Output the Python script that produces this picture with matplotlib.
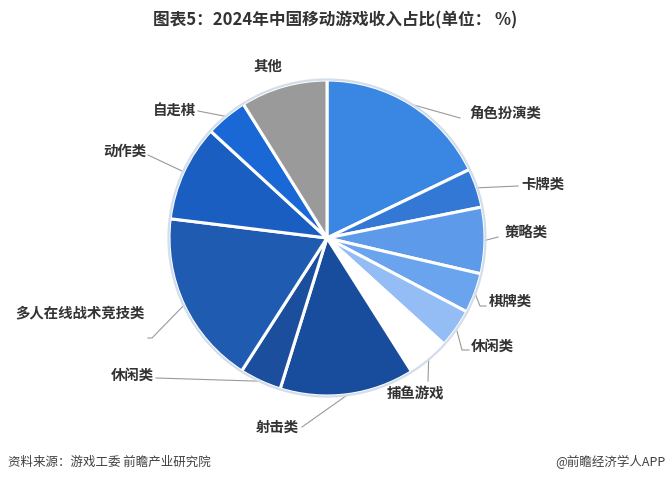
import matplotlib
matplotlib.use("Agg")
import matplotlib.pyplot as plt
import numpy as np
from matplotlib.patches import Circle

plt.rcParams['font.family'] = ['Noto Sans CJK SC', 'DejaVu Sans']

categories = ["角色扮演类", "卡牌类", "策略类", "棋牌类", "休闲类", "捕鱼游戏",
              "射击类", "休闲类", "多人在线战术竞技类", "动作类", "自走棋", "其他"]
values = [17.9, 4.0, 6.8, 4.1, 4.0, 4.3, 13.8, 4.3, 17.9, 9.9, 4.3, 8.9]
colors = ["#3a86e3", "#3478d6", "#5d9aea", "#6ba4ee", "#93bdf4", "#ffffff",
          "#174d9c", "#1b4f9e", "#1f5bb0", "#1b5ec2", "#1a68d6", "#9a9a9a"]

W, H = 668, 481
fig = plt.figure(figsize=(W / 100, H / 100), dpi=100)
ax = fig.add_axes([0, 0, 1, 1])

cx, cy, R = 327, 239, 158
# y axis is inverted, so counterclock=True in data space appears clockwise
wedges, _ = ax.pie(values, colors=colors, startangle=-90, counterclock=True,
                   center=(cx, cy), radius=R, frame=True,
                   wedgeprops=dict(edgecolor='white', linewidth=2.2))
ax.set_xlim(0, W)
ax.set_ylim(H, 0)
ax.set_aspect('equal')
ax.axis('off')
ax.add_patch(Circle((cx, cy), R + 0.5, fill=False, edgecolor='#d3deea', linewidth=1.6, zorder=5))

# label layout: (elbow point, end point, text x, text y, ha)
layout = [
    (None, (460, 119), 469, 115, 'left'),
    (None, (518, 187), 521, 185, 'left'),
    (None, (498, 238), 505, 234, 'left'),
    ((480, 307), (486, 307), 489, 302, 'left'),
    ((462, 351), (469, 351), 471, 347, 'left'),
    (None, (428, 382), 415, 394, 'center'),
    (None, (302, 428), 299, 428, 'right'),
    (None, (156, 379), 154, 376, 'right'),
    ((152, 339), (148, 339), 145, 313, 'right'),
    (None, (148, 156), 146, 152, 'right'),
    (None, (198, 112), 196, 111, 'right'),
    (None, None, 268, 67, 'center'),
]

for w, lab, (elbow, end, tx, ty, ha) in zip(wedges, categories, layout):
    ang = np.deg2rad((w.theta1 + w.theta2) / 2)
    sx, sy = cx + R * np.cos(ang), cy + R * np.sin(ang)
    if end is not None:
        pts = [(sx, sy)]
        if elbow is not None:
            pts.append(elbow)
        pts.append(end)
        xs, ys = zip(*pts)
        ax.plot(xs, ys, color='#9a9a9a', linewidth=0.8, zorder=1)
    ax.text(tx, ty, lab, ha=ha, va='center', fontsize=10.4, fontweight='bold', color='#333333')

ax.text(335, 20, "图表5：2024年中国移动游戏收入占比(单位： %)", ha='center', va='center',
        fontsize=12, fontweight='bold', color='#333333')
ax.text(8, 462, "资料来源：游戏工委 前瞻产业研究院", ha='left', va='center', fontsize=9, color='#404040')
ax.text(665, 462, "@前瞻经济学人APP", ha='right', va='center', fontsize=9, color='#404040')

fig.savefig("out.png", dpi=100)
